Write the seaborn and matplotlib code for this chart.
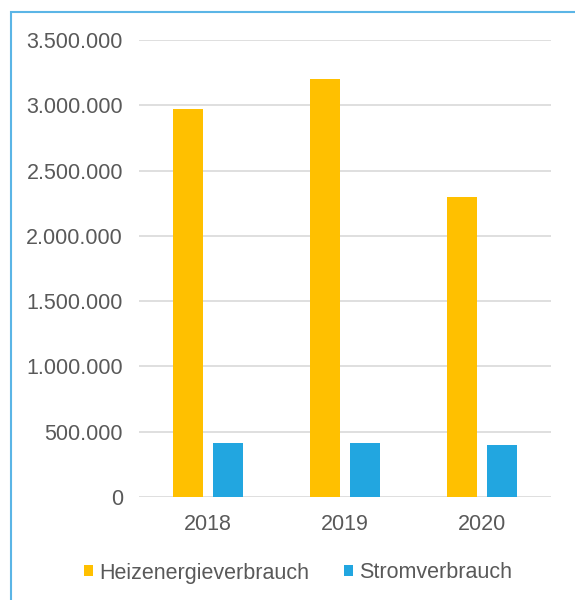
import pandas as pd
import matplotlib.pyplot as plt
import seaborn as sns
from matplotlib.patches import Rectangle
from matplotlib.ticker import FuncFormatter

years = ["2018", "2019", "2020"]
heizenergie = [2975000, 3200000, 2300000]
strom = [410000, 410000, 400000]
series_names = ["Heizenergieverbrauch", "Stromverbrauch"]
colors = ["#FFC000", "#22A6E0"]

df = pd.DataFrame({
    "Jahr": years * 2,
    "Wert": heizenergie + strom,
    "Reihe": [series_names[0]] * 3 + [series_names[1]] * 3,
})

sns.set_style("white")
plt.rcParams["font.family"] = ["Liberation Sans", "DejaVu Sans"]

fig = plt.figure(figsize=(5.75, 6), dpi=100)
ax = fig.add_axes([139 / 575, 1 - 497 / 600, 412 / 575, 457 / 600])

sns.barplot(
    data=df, x="Jahr", y="Wert", hue="Reihe",
    palette=colors, saturation=1, width=0.584, gap=0.25,
    linewidth=0, ax=ax, zorder=3
)

ax.set_ylim(0, 3500000)
ax.set_yticks(range(0, 3500001, 500000))
ax.yaxis.set_major_formatter(FuncFormatter(lambda v, p: f"{int(v):,}".replace(",", ".")))
ax.grid(axis="y", color="#D9D9D9", linewidth=1.2, zorder=0)
ax.grid(axis="x", visible=False)
sns.despine(ax=ax, left=True, bottom=True)
ax.set_xlabel("")
ax.set_ylabel("")
ax.tick_params(axis="both", length=0, labelsize=15.5, labelcolor="#595959")
ax.tick_params(axis="y", pad=11.5)
ax.tick_params(axis="x", pad=12)

ax.legend(
    loc="center", bbox_to_anchor=(298 / 575, (600 - 573) / 600), bbox_transform=fig.transFigure,
    ncol=2, frameon=False, fontsize=15.5, labelcolor="#595959",
    handlelength=0.42, handleheight=0.42, handletextpad=0.3, columnspacing=1.6
)

fig.patches.append(Rectangle(
    (11 / 575, -0.05), 1.1, 1 - 12 / 600 + 0.05,
    transform=fig.transFigure, fill=False, edgecolor="#5BB5E6", linewidth=1.5
))

plt.savefig("out.png", dpi=100)
plt.close()
